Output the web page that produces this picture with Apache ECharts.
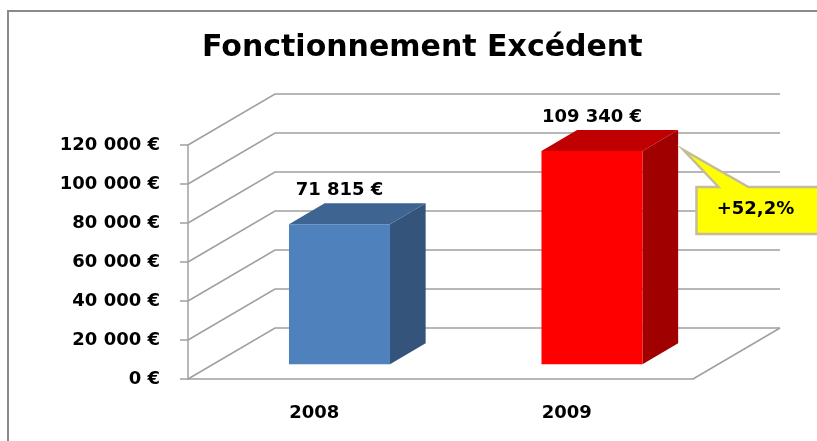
<!DOCTYPE html>
<html>
<head>
    <meta charset="utf-8">
    <title>Fonctionnement Excédent</title>
    <script src="https://cdn.jsdelivr.net/npm/echarts@6/dist/echarts.min.js"></script>
</head>
<body style="margin:0;background:#fff;overflow:hidden">
    <div id="main" style="width: 817px;height:441px;"></div>
    <script type="text/javascript">
// data
var years = ['2008', '2009'];
var amounts = [71815, 109340];
var yTicks = [0, 20000, 40000, 60000, 80000, 100000, 120000];
var calloutText = '+52,2%';

// fake 3D depth (pixels)
var DX = 87, DY = 51;
var F1 = 0.29, F2 = 0.70;

var faces = [
    {front: '#4F81BD', top: '#3E6592', side: '#34547C'},
    {front: '#FF0000', top: '#C00000', side: '#A00000'}
];

function euro(v) {
    return String(v).replace(/\B(?=(\d{3})+(?!\d))/g, ' ') + ' €';
}

var font = 'DejaVu Sans';
var chart = echarts.init(document.getElementById('main'));

chart.setOption({
    backgroundColor: '#fff',
    animation: false,
    title: {
        text: 'Fonctionnement Excédent',
        left: 197,
        top: 28,
        textStyle: {fontFamily: font, fontSize: 30, fontWeight: 'bold', color: '#000'}
    },
    graphic: [
        // chart area frame, only left and top edges visible
        {type: 'line', silent: true, shape: {x1: 8, y1: 10, x2: 8, y2: 441},
            style: {stroke: '#8A8A8A', lineWidth: 2}},
        {type: 'line', silent: true, shape: {x1: 7, y1: 11, x2: 817, y2: 11},
            style: {stroke: '#8A8A8A', lineWidth: 2}}
    ],
    grid: {left: 188, right: 124, top: 145, bottom: 62},
    xAxis: {
        type: 'category',
        data: years,
        axisLine: {lineStyle: {color: '#A0A0A0', width: 1.5}},
        axisTick: {length: 7, lineStyle: {color: '#A0A0A0', width: 1.5}},
        axisLabel: {margin: 25, fontFamily: font, fontSize: 18, fontWeight: 'bold', color: '#000'},
        splitLine: {show: false}
    },
    yAxis: {
        type: 'value',
        min: 0,
        max: 120000,
        interval: 20000,
        axisLine: {show: true, lineStyle: {color: '#A0A0A0', width: 1.5}},
        axisTick: {show: true, length: 8, lineStyle: {color: '#A0A0A0', width: 1.5}},
        axisLabel: {margin: 28, fontFamily: font, fontSize: 18, fontWeight: 'bold', color: '#000', formatter: euro},
        splitLine: {show: false}
    },
    series: [
        {
            // back wall + floor gridlines
            type: 'custom',
            silent: true,
            z: 1,
            data: yTicks.map(function (v) { return [0, v]; }),
            renderItem: function (params, api) {
                var cs = params.coordSys;
                var y = api.coord([0, api.value(1)])[1];
                var x0 = cs.x, x1 = cs.x + cs.width;
                var children = [{
                    type: 'polyline',
                    shape: {points: [[x0, y], [x0 + DX, y - DY], [x1 + DX, y - DY]]},
                    style: {fill: null, stroke: '#A0A0A0', lineWidth: 1.5}
                }];
                if (api.value(1) === 0) {
                    children.push({
                        type: 'line',
                        shape: {x1: x1, y1: y, x2: x1 + DX, y2: y - DY},
                        style: {stroke: '#A0A0A0', lineWidth: 1.5}
                    });
                }
                return {type: 'group', children: children};
            }
        },
        {
            // 3D bars
            type: 'custom',
            z: 3,
            data: amounts.map(function (v, i) { return [i, v]; }),
            renderItem: function (params, api) {
                var i = api.value(0);
                var base = api.coord([i, 0]);
                var top = api.coord([i, api.value(1)]);
                var bw = api.size([1, 0])[0] * 0.4;
                var l = base[0] - bw / 2 + F1 * DX;
                var r = l + bw;
                var yb = base[1] - F1 * DY;
                var yt = top[1] - F1 * DY;
                var dx = (F2 - F1) * DX, dy = (F2 - F1) * DY;
                var c = faces[i];
                return {
                    type: 'group',
                    children: [
                        {type: 'polygon', shape: {points: [[r, yt], [r + dx, yt - dy], [r + dx, yb - dy], [r, yb]]},
                            style: {fill: c.side}},
                        {type: 'polygon', shape: {points: [[l, yt], [l + dx, yt - dy], [r + dx, yt - dy], [r, yt]]},
                            style: {fill: c.top}},
                        {type: 'rect', shape: {x: l, y: yt, width: bw, height: yb - yt},
                            style: {fill: c.front}},
                        {type: 'text', x: (l + r) / 2, y: yt - dy - 13,
                            style: {text: euro(api.value(1)), align: 'center', verticalAlign: 'middle',
                                font: 'bold 18px "DejaVu Sans"', fill: '#000'}}
                    ]
                };
            }
        },
        {
            // callout next to the 2009 bar
            type: 'custom',
            silent: true,
            z: 5,
            data: [[1, amounts[1]]],
            renderItem: function (params, api) {
                var base = api.coord([api.value(0), 0]);
                var top = api.coord([api.value(0), api.value(1)]);
                var bw = api.size([1, 0])[0] * 0.4;
                var rx = base[0] + bw / 2 + F1 * DX;
                var ry = top[1] - F1 * DY;
                var tip = [rx + 41, ry - 1];
                var bl = rx + 54, bt = ry + 36, bb = ry + 83, br = 824;
                return {
                    type: 'group',
                    children: [
                        {type: 'polygon', shape: {points: [[bl, bt], [bl + 22, bt], tip, [bl + 52, bt], [br, bt], [br, bb], [bl, bb]]},
                            style: {fill: '#FFFF00', stroke: '#C4BD97', lineWidth: 2.5, lineJoin: 'miter'}},
                        {type: 'text', x: bl + 59, y: bt + 22,
                            style: {text: calloutText, align: 'center', verticalAlign: 'middle',
                                font: 'bold 18px "DejaVu Sans"', fill: '#000'}}
                    ]
                };
            }
        }
    ]
});
    </script>
</body>
</html>
